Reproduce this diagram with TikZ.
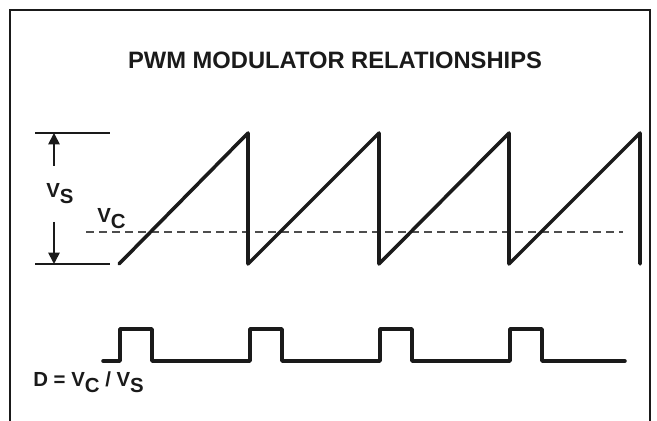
\documentclass[tikz,border=0pt]{standalone}
\usepackage{fontspec}
\setmainfont{Liberation Sans}
\usetikzlibrary{arrows.meta,positioning}
\definecolor{ink}{HTML}{1A1A1A}
\definecolor{dashgray}{HTML}{4D4D4D}
\newcommand{\lowsub}[1]{\raisebox{-3.4pt}{#1}}
\tikzset{
  framebox/.style={line width=1.4pt, draw=ink},
  wave/.style={line width=2pt, draw=ink, line join=round, line cap=round},
  refline/.style={line width=1pt, draw=ink},
  vcline/.style={line width=0.6pt, draw=dashgray, dash pattern=on 4.6pt off 2.8pt},
  dimarrow/.style={-{Triangle[length=6.5pt,width=6.5pt]}, line width=1pt, color=ink},
  siglabel/.style={font=\fontsize{11.6}{13}\selectfont\bfseries, text=ink,
    inner sep=0pt, anchor=base west},
  titletext/.style={font=\fontsize{13.5}{15}\selectfont\bfseries, text=ink},
}

\begin{document}
\begin{tikzpicture}[x=0.02cm, y=-0.02cm]
    \useasboundingbox (0,0) rectangle (657,421);
    \draw[framebox] (10,421) -- (10,10) -- (650,10) -- (650,421);
    \node[titletext] (title) at (335,60) {PWM MODULATOR RELATIONSHIPS};
    % amplitude of the ramp
    \draw[refline] (35,133) -- (110,133);
    \draw[refline] (35,264) -- (110,264);
    \coordinate (vstop) at (54,133);
    \coordinate (vsbot) at (54,264);
    \coordinate (uptail) at (54,166);
    \coordinate (downtail) at (54,222);
    \draw[dimarrow] (uptail) -- (vstop);
    \draw[dimarrow] (downtail) -- (vsbot);
    \node[siglabel] (vslabel) at (46,198) {V\lowsub{S}};
    \node[siglabel] (vclabel) at (97,223) {V\lowsub{C}};
    % sawtooth and control level
    \draw[vcline] (86,232) -- (623,232);
    \draw[wave] (119,264) \foreach \x in {248,379,509,640} { -- (\x,133) -- (\x,264) };
    % output pulses
    \draw[wave] (103,361) \foreach \x in {120,250,380,510} {
      -- (\x,361) -- (\x,329) -- (\x+32,329) -- (\x+32,361) } -- (625,361);
    \node[siglabel] (dutylabel) at (33,387) {D = V\lowsub{C} / V\lowsub{S}};
\end{tikzpicture}
\end{document}
